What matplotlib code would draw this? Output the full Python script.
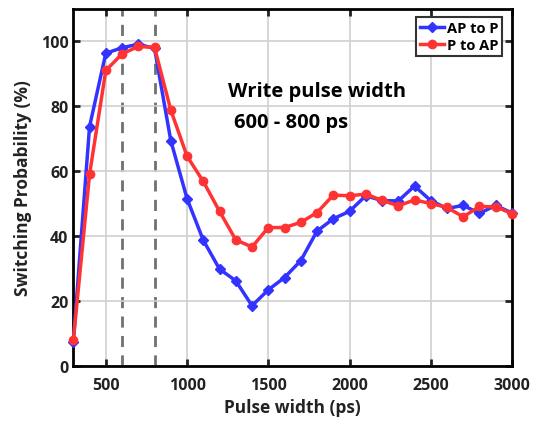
import numpy as np
import matplotlib.pyplot as plt

plt.rcParams['font.family'] = ['Open Sans', 'DejaVu Sans']
plt.rcParams['font.weight'] = 'bold'

pulse_width = [300, 400, 500, 600, 700, 800, 900, 1000, 1100, 1200, 1300, 1400, 1500, 1600,
               1700, 1800, 1900, 2000, 2100, 2200, 2300, 2400, 2500, 2600, 2700, 2800, 2900, 3000]
ap_to_p = [7.2, 73.7, 96.3, 98.0, 99.1, 97.8, 69.4, 51.5, 38.7, 29.8, 26.2, 18.5, 23.4, 27.2,
           32.4, 41.5, 45.3, 47.6, 52.4, 50.9, 50.8, 55.4, 50.9, 48.5, 49.4, 47.0, 49.4, 47.1]
p_to_ap = [7.8, 59.0, 91.0, 96.1, 98.4, 98.1, 78.8, 64.6, 56.8, 47.6, 38.8, 36.6, 42.6, 42.6,
           44.2, 47.2, 52.6, 52.4, 52.9, 51.0, 49.3, 51.1, 50.0, 48.8, 45.9, 49.1, 49.0, 46.9]
write_window = [600, 800]

fig = plt.figure(figsize=(5.35, 4.27), dpi=100)
ax = fig.add_axes([0.137, 0.141, 0.82, 0.836])

ax.grid(True, color="#d0d0d0", linewidth=1.2, zorder=0)
for w in write_window:
    ax.axvline(w, color="#707070", linestyle=(0, (4, 3)), linewidth=2, zorder=1)

ax.plot(pulse_width, ap_to_p, color="#3333ff", marker="D", markersize=5, linewidth=2.5,
        label="AP to P", zorder=3, clip_on=False)
ax.plot(pulse_width, p_to_ap, color="#ff3333", marker="o", markersize=6, linewidth=2.5,
        label="P to AP", zorder=4, clip_on=False)

ax.set_xlim(300, 3000)
ax.set_ylim(0, 110)
ax.set_xticks([500, 1000, 1500, 2000, 2500, 3000])
ax.set_yticks([0, 20, 40, 60, 80, 100])
ax.tick_params(direction="in", top=True, right=True, length=5, width=2, labelsize=11.5,
               colors="#222222", labelcolor="#222222")
ax.tick_params(axis="x", pad=8)
for s in ax.spines.values():
    s.set_linewidth(2)
    s.set_color("black")

ax.set_xlabel("Pulse width (ps)", fontsize=12.5, fontweight="bold", color="#222222", labelpad=4)
ax.set_ylabel("Switching Probability (%)", fontsize=12.5, fontweight="bold", color="#222222",
              labelpad=6)

ax.text(1250, 83, "Write pulse width", fontsize=14.5, fontweight="bold")
ax.text(1290, 73.5, "600 - 800 ps", fontsize=14.5, fontweight="bold")

leg = ax.legend(loc="upper right", bbox_to_anchor=(0.985, 0.985), fontsize=10.5, frameon=True,
                fancybox=False, handlelength=1.7, handletextpad=0.2, borderpad=0.25,
                labelspacing=0.25, borderaxespad=0.2)
leg.get_frame().set_edgecolor("#333333")
leg.get_frame().set_linewidth(1.5)
leg.get_frame().set_alpha(1)

fig.savefig("out.png", dpi=100)
